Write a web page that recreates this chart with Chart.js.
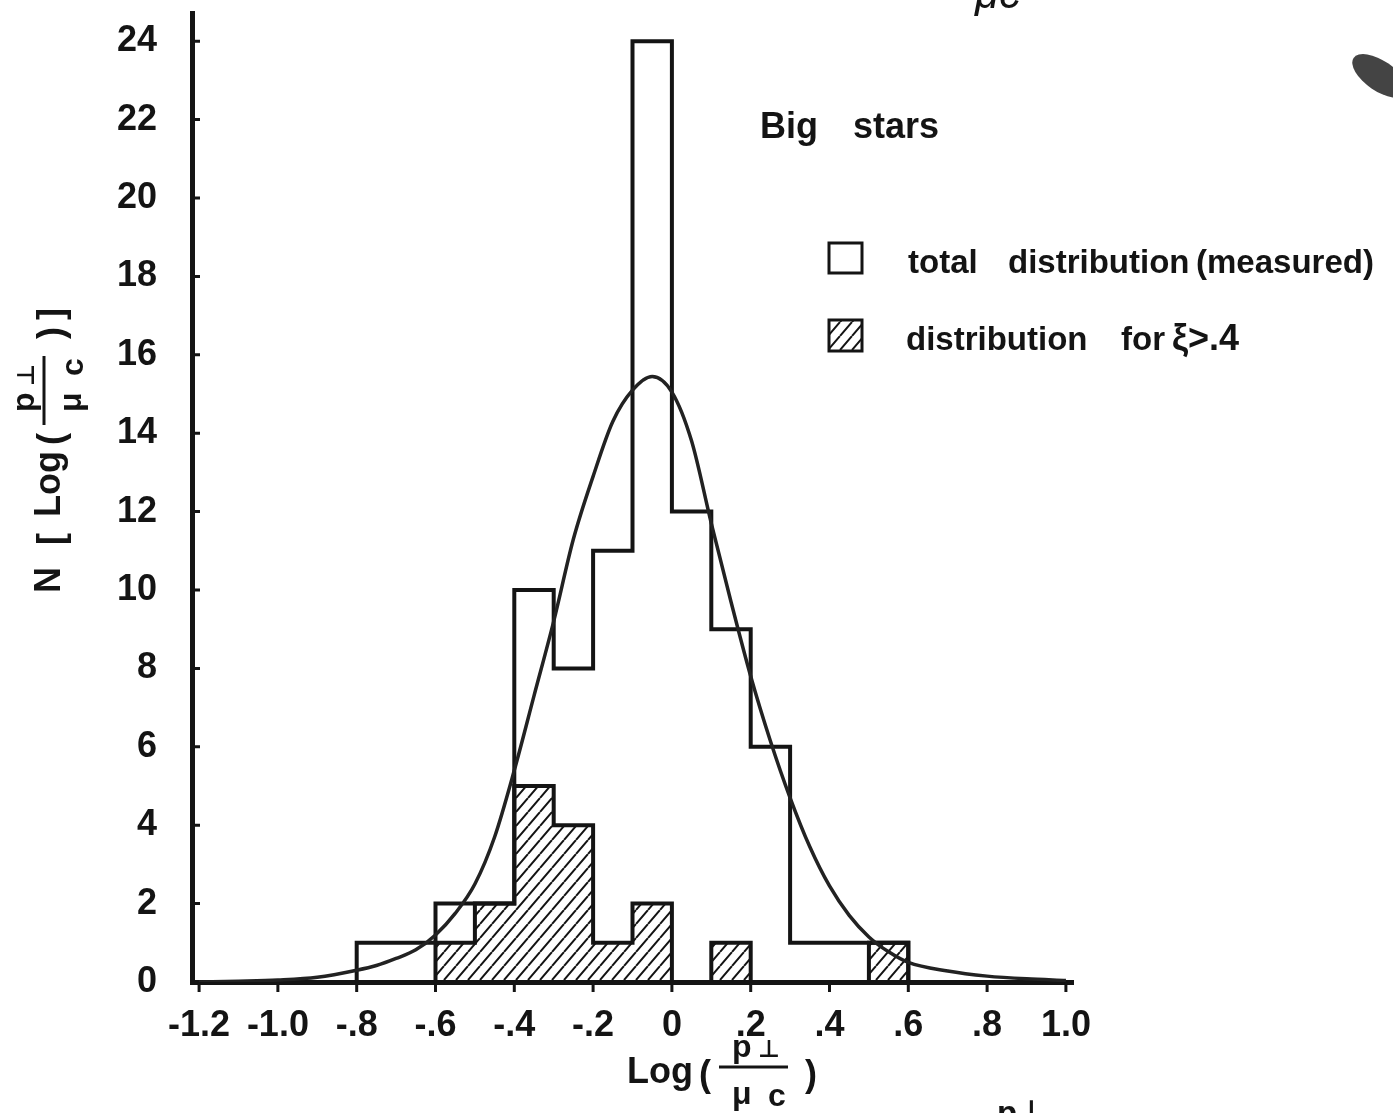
<!DOCTYPE html>
<html>
<head>
<meta charset="utf-8">
<script src="https://cdn.jsdelivr.net/npm/chart.js@4.4.1/dist/chart.umd.min.js"></script>
<style>
  html, body { margin: 0; padding: 0; background: #fff; }
  #wrap { width: 1393px; height: 1113px; position: relative; }
</style>
</head>
<body>
<div id="wrap"><canvas id="chart" width="1393" height="1113"></canvas></div>
<script>
// histogram bins of Log(p_perp / mu c), width 0.1
const binEdges = [-0.8, -0.7, -0.6, -0.5, -0.4, -0.3, -0.2, -0.1, 0.0, 0.1, 0.2, 0.3, 0.4, 0.5, 0.6];
const totalCounts = [1, 1, 2, 2, 10, 8, 11, 24, 12, 9, 6, 1, 1, 1];
const hatchedCounts = [0, 0, 1, 2, 5, 4, 1, 2, 0, 1, 0, 0, 0, 1];

// smooth fitted curve
const curveX = [-1.2, -1.1, -1.0, -0.9, -0.8, -0.75, -0.7, -0.65, -0.6, -0.55, -0.5, -0.45, -0.4, -0.35, -0.3, -0.25, -0.2, -0.15, -0.1, -0.05, 0.0, 0.05, 0.1, 0.15, 0.2, 0.25, 0.3, 0.35, 0.4, 0.45, 0.5, 0.55, 0.6, 0.7, 0.8, 0.9, 1.0];
const curveY = [0.0, 0.02, 0.05, 0.12, 0.3, 0.42, 0.6, 0.82, 1.2, 1.75, 2.5, 3.7, 5.4, 7.3, 9.2, 11.3, 12.9, 14.3, 15.1, 15.45, 15.05, 13.8, 11.7, 9.7, 7.8, 6.15, 4.7, 3.45, 2.45, 1.7, 1.15, 0.77, 0.5, 0.28, 0.15, 0.08, 0.04];

const xTickValues = [-1.2, -1.0, -0.8, -0.6, -0.4, -0.2, 0, 0.2, 0.4, 0.6, 0.8, 1.0];
const xTickLabels = ['-1.2', '-1.0', '-.8', '-.6', '-.4', '-.2', '0', '.2', '.4', '.6', '.8', '1.0'];
const yTickValues = [0, 2, 4, 6, 8, 10, 12, 14, 16, 18, 20, 22, 24];
const yTickLabels = ['0', '2', '4', '6', '8', '10', '12', '14', '16', '18', '20', '22', '24'];

const ink = '#141414';
const FONT = "'Liberation Sans', Arial, sans-serif";

// outline of a histogram as a stepped line
function stepPoints(counts) {
    const pts = [{ x: binEdges[0], y: 0 }];
    counts.forEach((c, i) => pts.push({ x: binEdges[i], y: c }));
    pts.push({ x: binEdges[binEdges.length - 1], y: 0 });
    return pts;
}

function hatchPattern(ctx) {
    const w = 12, h = 14;
    const c = document.createElement('canvas');
    c.width = w; c.height = h;
    const g = c.getContext('2d');
    g.strokeStyle = ink;
    g.lineWidth = 2;
    g.beginPath();
    g.moveTo(0, h); g.lineTo(w, 0);
    g.moveTo(-w, h); g.lineTo(0, 0);
    g.moveTo(w, h); g.lineTo(2 * w, 0);
    g.stroke();
    return ctx.createPattern(c, 'repeat');
}

// "Log ( p⊥ / μc )" drawn around a baseline starting at ox
function drawLogTitle(ctx, ox) {
    ctx.font = `bold 36px ${FONT}`;
    ctx.fillText('Log', ox, 0);
    ctx.fillText('(', ox + 72, 3);
    ctx.fillText(')', ox + 178, 3);
    ctx.lineWidth = 3;
    ctx.beginPath();
    ctx.moveTo(ox + 92, -16);
    ctx.lineTo(ox + 161, -16);
    ctx.stroke();
    ctx.font = `bold 32px ${FONT}`;
    ctx.fillText('p', ox + 105, -26);
    ctx.fillText('μ', ox + 105, 21);
    ctx.fillText('c', ox + 141, 23);
    ctx.font = `bold 24px 'DejaVu Sans', sans-serif`;
    ctx.fillText('⊥', ox + 131, -26);
}

const annotations = {
    id: 'annotations',
    afterDraw(chart) {
        const { ctx, scales: { x, y } } = chart;
        ctx.save();
        ctx.strokeStyle = ink;
        ctx.fillStyle = ink;
        ctx.lineCap = 'butt';

        // tick marks: y inward, x downward
        ctx.lineWidth = 3;
        const x0 = x.left, y0 = y.bottom;
        ctx.beginPath();
        yTickValues.slice(1).forEach(v => {
            const py = y.getPixelForValue(v);
            ctx.moveTo(x0, py); ctx.lineTo(x0 + 8, py);
        });
        xTickValues.forEach(v => {
            const px = x.getPixelForValue(v);
            ctx.moveTo(px, y0); ctx.lineTo(px, y0 + 10);
        });
        ctx.stroke();

        ctx.textAlign = 'left';
        ctx.textBaseline = 'alphabetic';

        // x axis title
        ctx.save();
        ctx.translate(0, 1083);
        drawLogTitle(ctx, 627);
        ctx.restore();

        // y axis title, rotated
        ctx.save();
        ctx.translate(60, 593);
        ctx.rotate(-Math.PI / 2);
        ctx.font = `bold 36px ${FONT}`;
        ctx.fillText('N', 0, 0);
        ctx.fillText('[', 48, 3);
        drawLogTitle(ctx, 76);
        ctx.font = `bold 36px ${FONT}`;
        ctx.fillText(']', 273, 3);
        ctx.restore();

        // legend
        ctx.font = `bold 36px ${FONT}`;
        ctx.fillText('Big', 760, 138);
        ctx.fillText('stars', 853, 138);

        ctx.lineWidth = 3;
        ctx.strokeRect(829, 243, 33, 30);
        ctx.fillStyle = hatchPattern(ctx);
        ctx.fillRect(829, 320, 33, 31);
        ctx.strokeRect(829, 320, 33, 31);
        ctx.fillStyle = ink;

        ctx.font = `bold 33px ${FONT}`;
        ctx.fillText('total', 908, 273);
        ctx.fillText('distribution', 1008, 273);
        ctx.fillText('(measured)', 1196, 273);
        ctx.fillText('distribution', 906, 350);
        ctx.fillText('for', 1121, 350);
        ctx.font = `bold 36px ${FONT}`;
        ctx.fillText('ξ>.4', 1172, 350);

        // fragments of neighbouring text cut by the page edge
        ctx.font = `italic 44px ${FONT}`;
        ctx.fillText('μc', 975, 8);
        ctx.font = `bold 33px ${FONT}`;
        ctx.fillText('p⊥', 997, 1124);

        ctx.fillStyle = '#444';
        ctx.beginPath();
        ctx.ellipse(1380, 76, 32, 15, 0.6, 0, Math.PI * 2);
        ctx.fill();
        ctx.restore();
    }
};

const canvas = document.getElementById('chart');
const ctx = canvas.getContext('2d');

new Chart(ctx, {
    type: 'line',
    data: {
        datasets: [
            {
                label: 'fit',
                data: curveX.map((v, i) => ({ x: v, y: curveY[i] })),
                borderColor: '#222',
                borderWidth: 3.5,
                pointRadius: 0,
                tension: 0.4,
                cubicInterpolationMode: 'monotone',
                fill: false,
                order: 0,
            },
            {
                label: 'total distribution (measured)',
                data: stepPoints(totalCounts),
                stepped: 'before',
                borderColor: ink,
                borderWidth: 4,
                pointRadius: 0,
                fill: false,
                order: 1,
            },
            {
                label: 'distribution for ξ>.4',
                data: stepPoints(hatchedCounts),
                stepped: 'before',
                borderColor: ink,
                borderWidth: 4,
                pointRadius: 0,
                fill: 'origin',
                backgroundColor: hatchPattern(ctx),
                order: 2,
            },
        ],
    },
    options: {
        responsive: false,
        animation: false,
        layout: { padding: { top: 13, right: 320, left: 0, bottom: 0 } },
        plugins: {
            legend: { display: false },
            tooltip: { enabled: false },
        },
        scales: {
            x: {
                type: 'linear',
                min: -1.218,
                max: 1.018,
                afterFit: (s) => { s.height = 131; s.paddingLeft = 0; s.paddingRight = 0; },
                afterBuildTicks: (s) => { s.ticks = xTickValues.map(v => ({ value: v })); },
                grid: { display: false, drawTicks: false },
                border: { display: true, color: ink, width: 5 },
                ticks: {
                    padding: 22,
                    color: ink,
                    font: { family: FONT, size: 36, weight: 'bold' },
                    maxRotation: 0,
                    autoSkip: false,
                    callback: (v, i) => xTickLabels[i],
                },
            },
            y: {
                type: 'linear',
                min: 0,
                max: 24.72,
                afterFit: (s) => { s.width = 192; s.paddingTop = 0; s.paddingBottom = 0; },
                afterBuildTicks: (s) => { s.ticks = yTickValues.map(v => ({ value: v })); },
                grid: { display: false, drawTicks: false },
                border: { display: true, color: ink, width: 5 },
                ticks: {
                    padding: 35,
                    color: ink,
                    font: { family: FONT, size: 36, weight: 'bold' },
                    autoSkip: false,
                    callback: (v, i) => yTickLabels[i],
                },
            },
        },
    },
    plugins: [annotations],
});
</script>
</body>
</html>
